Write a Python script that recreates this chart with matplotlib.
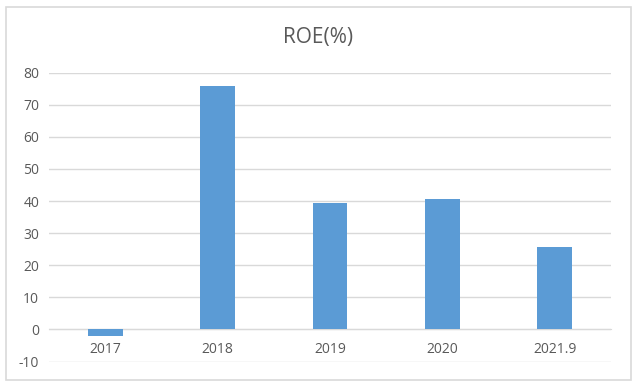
import matplotlib.pyplot as plt
from matplotlib.patches import Rectangle

years = ['2017', '2018', '2019', '2020', '2021.9']
roe = [-2.0, 75.7, 39.5, 40.7, 25.6]

plt.rcParams['font.family'] = ['Open Sans', 'DejaVu Sans']
plt.rcParams['axes.unicode_minus'] = False

fig = plt.figure(figsize=(6.39, 3.86), dpi=100)
ax = fig.add_axes([49 / 639, 1 - 361.5 / 386, (611 - 49) / 639, (361.5 - 72.7) / 386])

# outer chart border like Excel
fig.patches.append(Rectangle((5.5 / 639, 1 - 380 / 386), 625 / 639, 373 / 386,
                             transform=fig.transFigure, fill=False,
                             edgecolor='#d9d9d9', linewidth=1.2))

x = list(range(len(years)))
ax.bar(x, roe, width=0.31, color='#5b9bd5', zorder=3)

ax.set_ylim(-10, 80)
ax.set_xlim(-0.5, len(years) - 0.5)
ax.set_yticks(range(-10, 81, 10))
ax.yaxis.grid(True, color='#d9d9d9', linewidth=1, zorder=0)

for s in ['top', 'right', 'left']:
    ax.spines[s].set_visible(False)
ax.spines['bottom'].set_position(('data', 0))
ax.spines['bottom'].set_color('#d9d9d9')

ax.set_xticks(x)
ax.set_xticklabels(years)
ax.tick_params(axis='both', length=0, colors='#595959', labelsize=10)
ax.tick_params(axis='x', pad=9)
ax.tick_params(axis='y', pad=7)

fig.text(318 / 639, 1 - 37 / 386, 'ROE(%)', ha='center', va='center',
         fontsize=15, color='#595959')

fig.savefig('out.png', dpi=100)
